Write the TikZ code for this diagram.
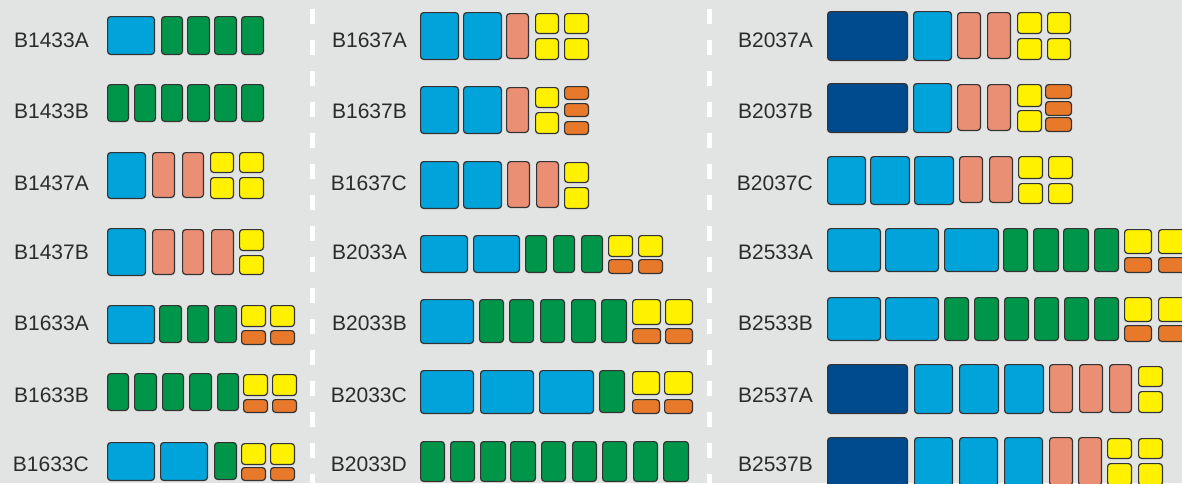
\documentclass[tikz,border=0pt]{standalone}
\usepackage{fontspec}
\setmainfont{Liberation Sans}
\definecolor{bg}{HTML}{E2E4E3}
\definecolor{cblue}{HTML}{00A4DB}
\definecolor{cdark}{HTML}{004B8D}
\definecolor{cgreen}{HTML}{00964A}
\definecolor{csalmon}{HTML}{EB8F74}
\definecolor{cyellow}{HTML}{FFF100}
\definecolor{corange}{HTML}{E8792A}
\definecolor{cline}{HTML}{333333}
\definecolor{ctext}{HTML}{2B2B2B}
\newcommand\rb[5]{\draw[box,fill=#1] (#2+0.6,#3+0.6) rectangle (#4-0.6,#5-0.6);}
\begin{document}
\begin{tikzpicture}[x=1pt,y=-1pt,
  box/.style={draw=cline,line width=1.2pt,rounded corners=3pt},
  lbl/.style={anchor=base east,inner sep=0pt,text=ctext,font=\fontsize{21}{21}\selectfont},
  sep/.style={draw=white,line width=4.5pt,dash pattern=on 15pt off 16pt}]
\useasboundingbox (0,0) rectangle (1182,483);
\clip (0,0) rectangle (1182,483);
\fill[bg] (0,0) rectangle (1182,483);
\coordinate (s1a) at (312.5,9); \coordinate (s1b) at (312.5,490);
\coordinate (s2a) at (709.5,9); \coordinate (s2b) at (709.5,490);
\draw[sep] (s1a) -- (s1b);
\draw[sep] (s2a) -- (s2b);
% labels
\node[lbl] (l1) at (89,47) {B1433A};
\node[lbl] (l2) at (89,118) {B1433B};
\node[lbl] (l3) at (89,190) {B1437A};
\node[lbl] (l4) at (89,259.5) {B1437B};
\node[lbl] (l5) at (89,330) {B1633A};
\node[lbl] (l6) at (89,402) {B1633B};
\node[lbl] (l7) at (89,471.5) {B1633C};
\node[lbl] (m1) at (407,47) {B1637A};
\node[lbl] (m2) at (407,118) {B1637B};
\node[lbl] (m3) at (407,190) {B1637C};
\node[lbl] (m4) at (407,259.5) {B2033A};
\node[lbl] (m5) at (407,330) {B2033B};
\node[lbl] (m6) at (407,402) {B2033C};
\node[lbl] (m7) at (407,471.5) {B2033D};
\node[lbl] (r1) at (813,47) {B2037A};
\node[lbl] (r2) at (813,118) {B2037B};
\node[lbl] (r3) at (813,190) {B2037C};
\node[lbl] (r4) at (813,259.5) {B2533A};
\node[lbl] (r5) at (813,330) {B2533B};
\node[lbl] (r6) at (813,402) {B2537A};
\node[lbl] (r7) at (813,471.5) {B2537B};
% ---- column 1
% B1433A
\rb{cblue}{107}{16}{155}{55}
\rb{cgreen}{161}{16}{183}{55}\rb{cgreen}{187}{16}{210}{55}\rb{cgreen}{214}{16}{237}{55}\rb{cgreen}{241}{16}{264}{55}
% B1433B
\rb{cgreen}{107}{84}{129}{122}\rb{cgreen}{134}{84}{156}{122}\rb{cgreen}{161}{84}{183}{122}
\rb{cgreen}{187}{84}{210}{122}\rb{cgreen}{214}{84}{237}{122}\rb{cgreen}{241}{84}{264}{122}
% B1437A
\rb{cblue}{107}{152}{146}{199}
\rb{csalmon}{152}{152}{175}{198}\rb{csalmon}{182}{152}{204}{198}
\rb{cyellow}{210}{152}{234}{173}\rb{cyellow}{239}{152}{264}{173}
\rb{cyellow}{210}{177}{234}{199}\rb{cyellow}{239}{177}{264}{199}
% B1437B
\rb{cblue}{107}{228}{146}{276}
\rb{csalmon}{152}{229}{175}{275}\rb{csalmon}{182}{229}{204}{275}\rb{csalmon}{211}{229}{234}{275}
\rb{cyellow}{239}{229}{264}{251}\rb{cyellow}{239}{255}{264}{275}
% B1633A
\rb{cblue}{107}{305}{155}{344}
\rb{cgreen}{159}{305}{182}{343}\rb{cgreen}{187}{305}{209}{343}\rb{cgreen}{214}{305}{237}{343}
\rb{cyellow}{241}{305}{266}{327}\rb{cyellow}{270}{305}{295}{327}
\rb{corange}{241}{330}{266}{345}\rb{corange}{270}{330}{295}{345}
% B1633B
\rb{cgreen}{107}{373}{129}{411}\rb{cgreen}{134}{373}{157}{411}\rb{cgreen}{162}{373}{184}{411}
\rb{cgreen}{189}{373}{212}{411}\rb{cgreen}{217}{373}{239}{411}
\rb{cyellow}{243}{374}{268}{396}\rb{cyellow}{272}{374}{297}{396}
\rb{corange}{243}{399}{268}{413}\rb{corange}{272}{399}{297}{413}
% B1633C
\rb{cblue}{107}{442}{155}{481}\rb{cblue}{160}{442}{208}{481}
\rb{cgreen}{214}{442}{237}{480}
\rb{cyellow}{241}{443}{266}{465}\rb{cyellow}{270}{443}{295}{465}
\rb{corange}{241}{467}{266}{481}\rb{corange}{270}{467}{295}{481}
% ---- column 2
% B1637A
\rb{cblue}{420}{12}{459}{60}\rb{cblue}{463}{12}{502}{60}
\rb{csalmon}{506}{13}{529}{59}
\rb{cyellow}{535}{13}{559}{34}\rb{cyellow}{564}{13}{589}{34}
\rb{cyellow}{535}{38}{559}{60}\rb{cyellow}{564}{38}{589}{60}
% B1637B
\rb{cblue}{420}{86}{459}{134}\rb{cblue}{463}{86}{502}{134}
\rb{csalmon}{506}{87}{529}{133}
\rb{cyellow}{535}{87}{559}{108}\rb{cyellow}{535}{112}{559}{134}
\rb{corange}{564}{86}{589}{100}\rb{corange}{564}{103}{589}{117}\rb{corange}{564}{121}{589}{135}
% B1637C
\rb{cblue}{420}{161}{459}{209}\rb{cblue}{463}{161}{502}{209}
\rb{csalmon}{507}{161}{530}{208}\rb{csalmon}{536}{161}{559}{208}
\rb{cyellow}{564}{162}{589}{183}\rb{cyellow}{564}{187}{589}{209}
% B2033A
\rb{cblue}{420}{235}{468}{273}\rb{cblue}{473}{235}{520}{273}
\rb{cgreen}{525}{235}{547}{273}\rb{cgreen}{553}{235}{575}{273}\rb{cgreen}{581}{235}{603}{273}
\rb{cyellow}{608}{235}{633}{257}\rb{cyellow}{638}{235}{663}{257}
\rb{corange}{608}{259}{633}{274}\rb{corange}{638}{259}{663}{274}
% B2033B
\rb{cblue}{420}{299}{474}{344}
\rb{cgreen}{479}{299}{504}{343}\rb{cgreen}{509}{299}{534}{343}\rb{cgreen}{540}{299}{565}{343}
\rb{cgreen}{571}{299}{596}{343}\rb{cgreen}{601}{299}{627}{343}
\rb{cyellow}{632}{299}{661}{325}\rb{cyellow}{665}{299}{693}{325}
\rb{corange}{632}{328}{661}{344}\rb{corange}{665}{328}{693}{344}
% B2033C
\rb{cblue}{420}{370}{474}{414}\rb{cblue}{480}{370}{534}{414}\rb{cblue}{539}{370}{594}{414}
\rb{cgreen}{599}{370}{625}{413}
\rb{cyellow}{632}{371}{660}{395}\rb{cyellow}{664}{371}{693}{395}
\rb{corange}{632}{399}{660}{414}\rb{corange}{664}{399}{693}{414}
% B2033D
\rb{cgreen}{420}{441}{445}{482}\rb{cgreen}{450}{441}{475}{482}\rb{cgreen}{480}{441}{506}{482}
\rb{cgreen}{510}{441}{536}{482}\rb{cgreen}{541}{441}{566}{482}\rb{cgreen}{572}{441}{597}{482}
\rb{cgreen}{602}{441}{627}{482}\rb{cgreen}{633}{441}{658}{482}\rb{cgreen}{663}{441}{689}{482}
% ---- column 3
% B2037A
\rb{cdark}{827}{11}{908}{61}\rb{cblue}{913}{11}{952}{61}
\rb{csalmon}{957}{12}{981}{59}\rb{csalmon}{987}{12}{1011}{59}
\rb{cyellow}{1017}{12}{1042}{34}\rb{cyellow}{1047}{12}{1071}{34}
\rb{cyellow}{1017}{38}{1042}{60}\rb{cyellow}{1047}{38}{1071}{60}
% B2037B
\rb{cdark}{827}{83}{908}{133}\rb{cblue}{913}{83}{952}{133}
\rb{csalmon}{957}{84}{981}{131}\rb{csalmon}{987}{84}{1011}{131}
\rb{cyellow}{1017}{84}{1042}{107}\rb{cyellow}{1017}{110}{1042}{132}
\rb{corange}{1045}{84}{1072}{99}\rb{corange}{1045}{101}{1072}{116}\rb{corange}{1045}{117}{1072}{132}
% B2037C
\rb{cblue}{827}{156}{866}{205}\rb{cblue}{870}{156}{910}{205}\rb{cblue}{914}{156}{954}{205}
\rb{csalmon}{959}{156}{983}{203}\rb{csalmon}{989}{156}{1013}{203}
\rb{cyellow}{1018}{156}{1043}{179}\rb{cyellow}{1048}{156}{1073}{179}
\rb{cyellow}{1018}{183}{1043}{204}\rb{cyellow}{1048}{183}{1073}{204}
% B2533A
\rb{cblue}{827}{228}{881}{272}\rb{cblue}{885}{228}{939}{272}\rb{cblue}{944}{228}{999}{272}
\rb{cgreen}{1003}{228}{1028}{272}\rb{cgreen}{1033}{228}{1059}{272}\rb{cgreen}{1063}{228}{1089}{272}\rb{cgreen}{1094}{228}{1119}{272}
\rb{cyellow}{1124}{229}{1152}{254}\rb{cyellow}{1158}{229}{1186}{254}
\rb{corange}{1124}{257}{1152}{273}\rb{corange}{1158}{257}{1186}{273}
% B2533B
\rb{cblue}{827}{297}{881}{341}\rb{cblue}{885}{297}{939}{341}
\rb{cgreen}{944}{297}{969}{341}\rb{cgreen}{974}{297}{999}{341}\rb{cgreen}{1004}{297}{1029}{341}
\rb{cgreen}{1034}{297}{1059}{341}\rb{cgreen}{1064}{297}{1089}{341}\rb{cgreen}{1094}{297}{1119}{341}
\rb{cyellow}{1124}{297}{1152}{322}\rb{cyellow}{1158}{297}{1186}{322}
\rb{corange}{1124}{325}{1152}{342}\rb{corange}{1158}{325}{1186}{342}
% B2537A
\rb{cdark}{827}{364}{908}{414}
\rb{cblue}{914}{364}{953}{414}\rb{cblue}{959}{364}{999}{414}\rb{cblue}{1004}{364}{1044}{414}
\rb{csalmon}{1049}{364}{1073}{413}\rb{csalmon}{1079}{364}{1103}{413}\rb{csalmon}{1109}{364}{1132}{413}
\rb{cyellow}{1138}{366}{1163}{387}\rb{cyellow}{1138}{391}{1163}{413}
% B2537B
\rb{cdark}{827}{437}{908}{487}
\rb{cblue}{914}{437}{953}{487}\rb{cblue}{959}{437}{998}{487}\rb{cblue}{1004}{437}{1043}{487}
\rb{csalmon}{1049}{437}{1073}{486}\rb{csalmon}{1078}{437}{1102}{486}
\rb{cyellow}{1107}{438}{1132}{459}\rb{cyellow}{1138}{438}{1163}{459}
\rb{cyellow}{1107}{463}{1132}{486}\rb{cyellow}{1138}{463}{1163}{486}
\end{tikzpicture}
\end{document}
